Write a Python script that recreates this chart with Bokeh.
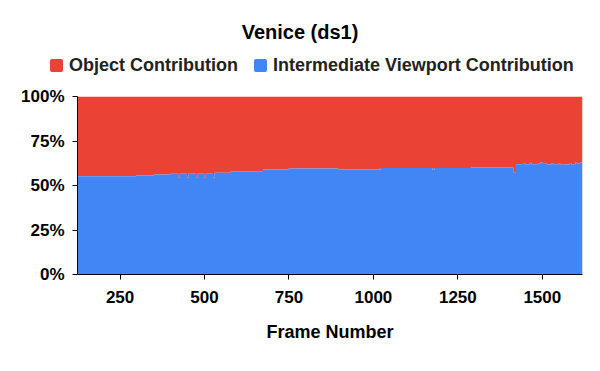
from bokeh.plotting import figure
from bokeh.layouts import column
from bokeh.models import (Range1d, FixedTicker, NumeralTickFormatter, Div)
from bokeh.embed import file_html
from bokeh.resources import INLINE

# ---- data ----
frames = [124, 297, 350, 400, 422, 427, 448, 453, 475, 480, 499, 504, 525, 530,
          578, 673, 749, 895, 1022, 1175, 1181, 1289, 1414, 1422,
          1440, 1447, 1463, 1468, 1485, 1495, 1502, 1515, 1527, 1533,
          1548, 1553, 1565, 1580, 1586, 1598, 1604, 1612, 1619]
viewport_share = [0.552, 0.556, 0.562, 0.566, 0.545, 0.566, 0.545, 0.566, 0.545, 0.566, 0.545, 0.566, 0.545, 0.572,
                  0.580, 0.590, 0.596, 0.590, 0.598, 0.590, 0.598, 0.601, 0.575, 0.620,
                  0.626, 0.620, 0.628, 0.620, 0.622, 0.630, 0.622, 0.618, 0.624, 0.620,
                  0.625, 0.620, 0.618, 0.626, 0.620, 0.628, 0.622, 0.630, 0.630]
object_top = [1.0] * len(frames)
zero = [0.0] * len(frames)

title_text = "Venice (ds1)"
series_names = ["Object Contribution", "Intermediate Viewport Contribution"]
series_colors = ["#EA4335", "#4285F4"]
x_ticks = [250, 500, 750, 1000, 1250, 1500]
y_ticks = [0, 0.25, 0.5, 0.75, 1.0]

FONT = "Liberation Sans"
W = 598
HEAD_H = 86

# ---- header: title + legend ----
def swatch(color, gap):
    return ('<span style="display:inline-block;width:13px;height:13px;background:%s;'
            'border-radius:2px;vertical-align:-1px;margin-right:6px;margin-left:%dpx"></span>' % (color, gap))

legend_html = (swatch(series_colors[0], 0) + series_names[0] +
               swatch(series_colors[1], 16) + series_names[1])
header_html = (
    '<div style="position:relative;width:%dpx;height:%dpx;font-family:\'%s\';font-weight:bold;">' % (W, HEAD_H, FONT) +
    '<div style="position:absolute;left:0;top:20px;width:600px;text-align:center;font-size:20px;'
    'line-height:24px;color:#000;">%s</div>' % title_text +
    '<div style="position:absolute;left:50px;top:55px;font-size:18px;line-height:20px;color:#222;'
    'white-space:nowrap;">%s</div>' % legend_html +
    '</div>')
hdr = Div(text=header_html, width=W, height=HEAD_H, margin=0)

# ---- main plot ----
p = figure(width=W, height=283, output_backend="svg", toolbar_location=None,
           x_range=Range1d(124, 1619), y_range=Range1d(0, 1),
           min_border_left=77, min_border_right=16, min_border_top=10, min_border_bottom=95)
p.outline_line_color = None
p.xgrid.grid_line_color = None
p.ygrid.grid_line_color = None
p.background_fill_color = "white"

r_obj = p.varea_step(x=frames, y1=viewport_share, y2=object_top, step_mode="after",
                     fill_color=series_colors[0])
r_vp = p.varea_step(x=frames, y1=zero, y2=viewport_share, step_mode="after",
                    fill_color=series_colors[1])

p.xaxis.ticker = FixedTicker(ticks=x_ticks)
p.yaxis.ticker = FixedTicker(ticks=y_ticks)
p.yaxis.formatter = NumeralTickFormatter(format="0%")
for ax in (p.xaxis, p.yaxis):
    ax.axis_line_color = "black"
    ax.major_tick_line_color = "black"
    ax.minor_tick_line_color = None
    ax.major_tick_out = 5
    ax.major_tick_in = 0
    ax.major_label_text_font = FONT
    ax.major_label_text_font_style = "bold"
    ax.major_label_text_font_size = "17px"
    ax.major_label_text_color = "black"
p.xaxis.major_label_standoff = 11
p.yaxis.major_label_standoff = 8
p.xaxis.axis_label = "Frame Number"
p.xaxis.axis_label_text_font = FONT
p.xaxis.axis_label_text_font_style = "bold"
p.xaxis.axis_label_text_font_size = "18px"
p.xaxis.axis_label_standoff = 16
p.xaxis.axis_label_text_color = "black"

layout = column(hdr, p, spacing=0)
open("out.html", "w").write(file_html(layout, INLINE))
